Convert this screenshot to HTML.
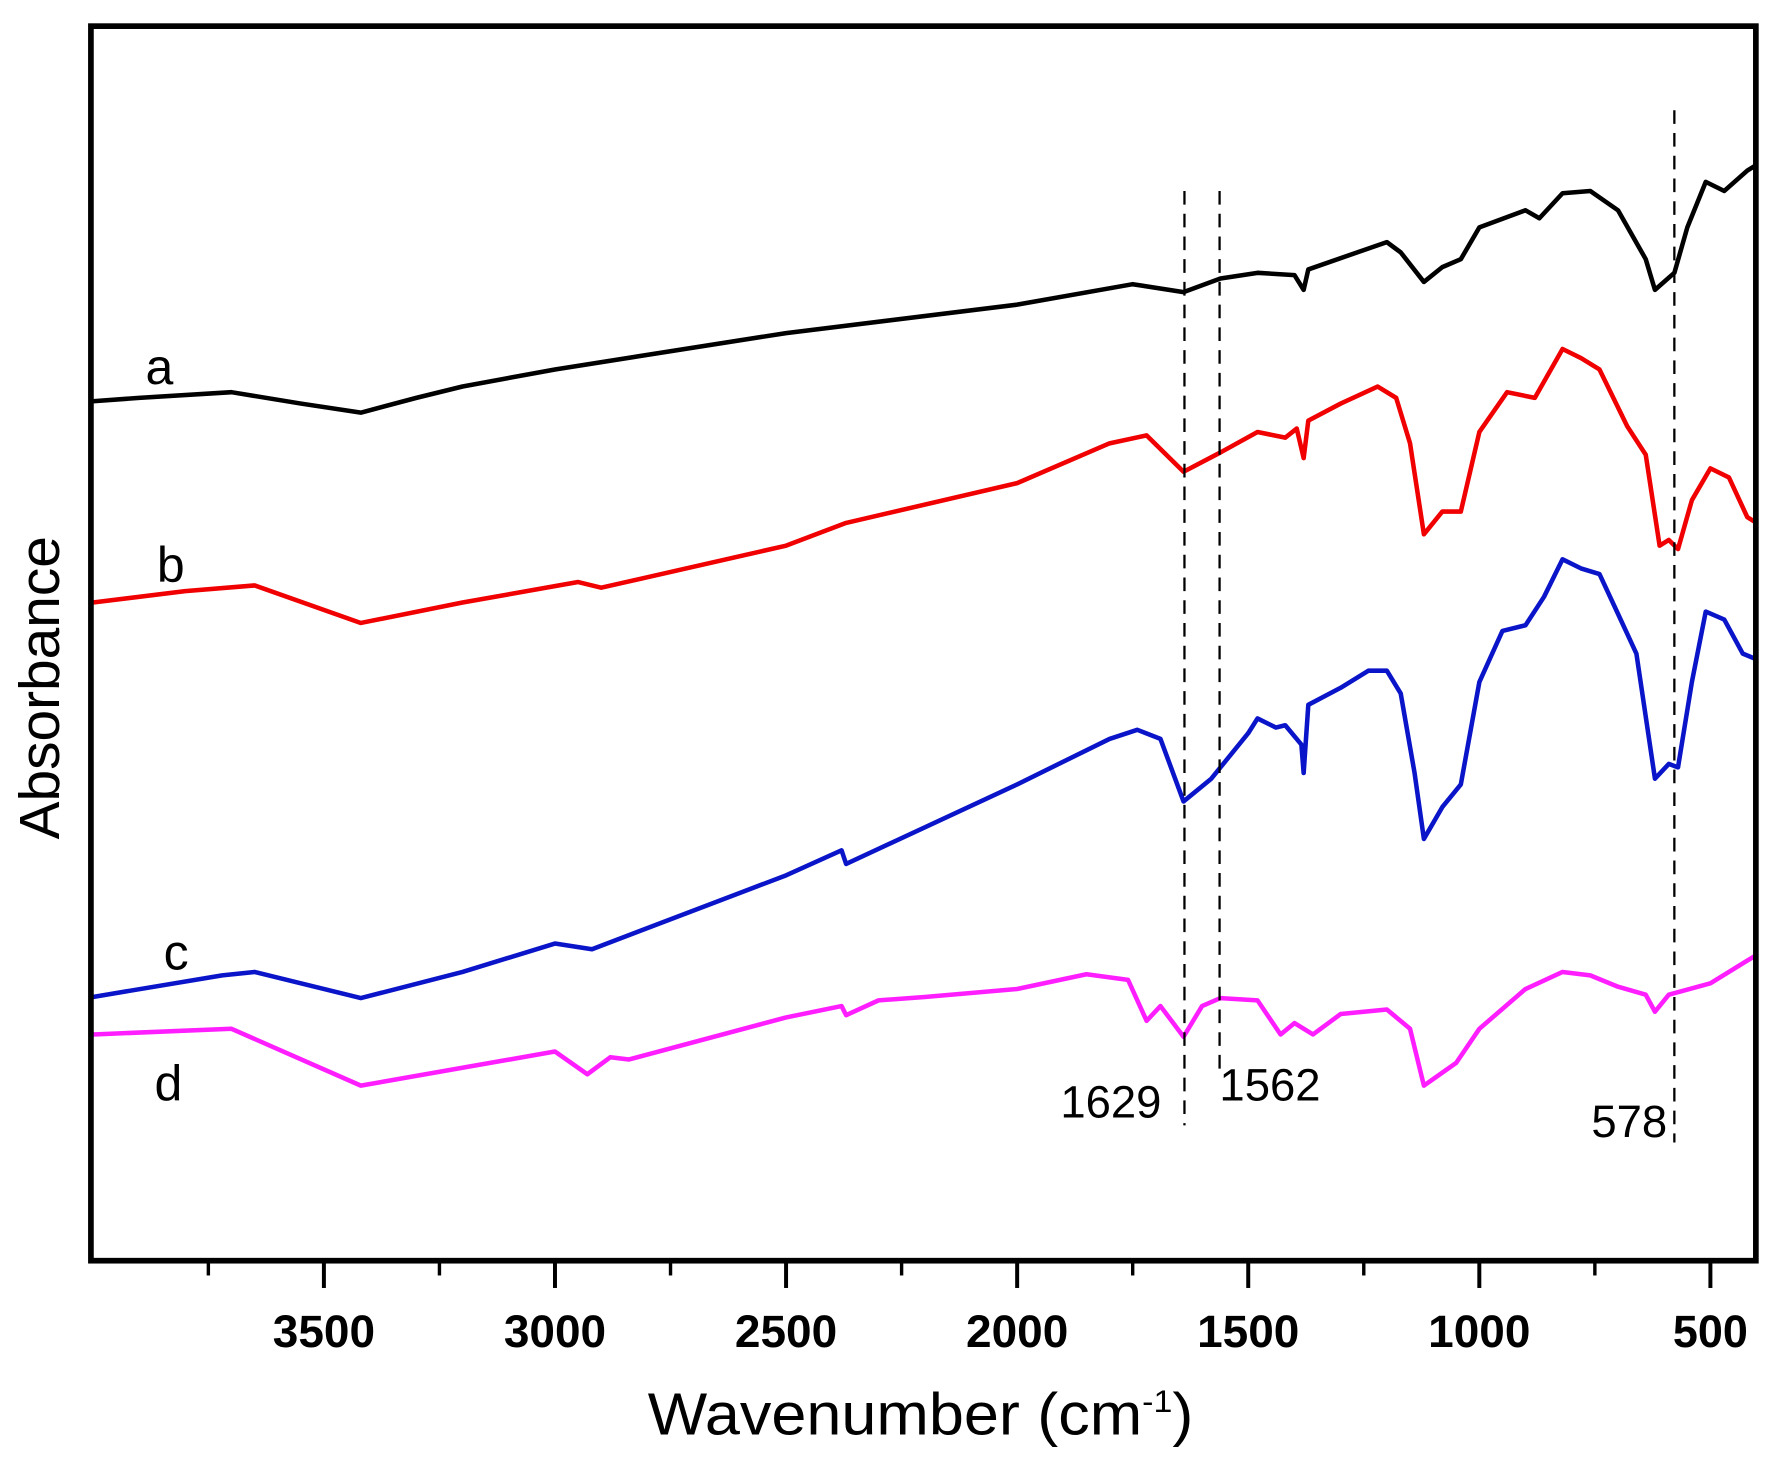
<!DOCTYPE html>
<html><head><meta charset="utf-8"><style>
html,body{margin:0;padding:0;background:#fff;}
svg{display:block;}
text{font-family:"Liberation Sans",sans-serif;}
</style></head><body>
<svg id="chart" width="1782" height="1471" viewBox="0 0 1568 1294" preserveAspectRatio="none" xmlns="http://www.w3.org/2000/svg">
<rect x="0" y="0" width="1568" height="1294" fill="#fff"/>
<g id="plot"></g>
<rect x="80" y="23" width="1465" height="1086" fill="none" stroke="#000" stroke-width="5"/>
<g id="ticks"></g>
<text x="810" y="1262" font-size="52" text-anchor="middle" textLength="480" lengthAdjust="spacingAndGlyphs">Wavenumber (cm<tspan dy="-20" font-size="28">-1</tspan><tspan dy="20">)</tspan></text>
<text transform="translate(52,605) rotate(-90)" font-size="50" text-anchor="middle">Absorbance</text>
<text x="128" y="338" font-size="44">a</text>
<text x="138" y="512" font-size="44">b</text>
<text x="144" y="853" font-size="44">c</text>
<text x="136" y="968" font-size="44">d</text>
<text x="1022" y="983" font-size="40" text-anchor="end">1629</text>
<text x="1073" y="968" font-size="40">1562</text>
<text x="1467" y="1000" font-size="40" text-anchor="end">578</text>
</svg>
<script>
const wnA=[4000,3900,3700,3550,3420,3300,3200,3000,2500,2000,1750,1640,1560,1480,1400,1380,1370,1250,1200,1170,1120,1080,1040,1000,900,870,820,760,700,640,620,578,550,510,470,420,400];
const absA=[757,760,765,755,747,760,770,785,817,842,860,853,865,870,868,855,873,890,897,888,862,875,882,910,925,918,940,942,925,882,855,870,910,950,942,960,965];
const wnB=[4000,3800,3650,3420,3200,2950,2900,2500,2370,2000,1800,1720,1640,1560,1480,1420,1395,1380,1370,1300,1220,1180,1150,1120,1080,1040,1000,940,880,820,780,740,680,640,610,590,570,540,500,460,420,400];
const absB=[580,590,595,562,580,598,593,630,650,685,720,727,695,712,730,725,733,707,740,755,770,760,720,640,660,660,730,765,760,803,795,785,735,710,630,635,627,670,698,690,655,650];
const wnC=[4000,3720,3650,3420,3200,3000,2920,2500,2380,2370,2000,1800,1740,1690,1640,1580,1500,1480,1440,1420,1385,1380,1370,1300,1240,1200,1170,1140,1120,1080,1040,1000,950,900,860,820,780,740,700,660,620,590,570,540,510,470,430,400];
const absC=[233,252,255,232,255,280,275,340,362,350,420,460,468,460,405,425,465,478,470,472,455,430,490,505,520,520,500,430,372,400,420,510,555,560,585,618,610,605,570,535,425,438,435,510,572,565,535,530];
const wnD=[4000,3700,3420,3000,2930,2880,2840,2500,2380,2370,2300,2200,2000,1850,1760,1720,1690,1640,1600,1560,1480,1430,1400,1360,1300,1200,1150,1120,1050,1000,900,820,760,700,640,620,590,500,420,400];
const absD=[200,205,155,185,165,180,178,215,225,217,230,233,240,253,248,212,225,198,225,232,230,200,210,200,218,222,205,155,175,205,240,255,252,242,235,220,235,245,265,270];
const majorTicks=[3500,3000,2500,2000,1500,1000,500];
const minorTicks=[3750,3250,2750,2250,1750,1250,750];
const markers=[1638,1562,578];
const markerTop=[168,168,97];
const markerBottom=[990,945,1005];

const NS="http://www.w3.org/2000/svg";
const xS=w=>285+(3500-w)*(1220/3000);
const yS=v=>1110-v;
const plot=document.getElementById('plot');
const ticks=document.getElementById('ticks');
function mk(tag,attrs,parent){const e=document.createElementNS(NS,tag);for(const k in attrs)e.setAttribute(k,attrs[k]);parent.appendChild(e);return e;}
const series=[['a',wnA,absA,'#000'],['b',wnB,absB,'#f00000'],['c',wnC,absC,'#0a14c8'],['d',wnD,absD,'#ff1eff']];
series.forEach(s=>{
  const d=s[1].map((w,i)=>(i?'L':'M')+xS(w).toFixed(1)+','+yS(s[2][i]).toFixed(1)).join('');
  const p=mk('path',{d:d,fill:'none',stroke:s[3],'stroke-width':4,'stroke-linejoin':'round'},plot);
  
  
});
markers.forEach((m,i)=>{
  const l=mk('line',{x1:xS(m),x2:xS(m),y1:markerTop[i],y2:markerBottom[i],stroke:'#000','stroke-width':2,'stroke-dasharray':'12,8'},plot);
  
  
});
majorTicks.forEach(t=>{
  const l=mk('line',{x1:xS(t),x2:xS(t),y1:1109,y2:1133,stroke:'#000','stroke-width':3.5},ticks);
  
  
  const tx=mk('text',{x:xS(t),y:1185,'font-size':40,'font-weight':'bold','text-anchor':'middle',textLength:90,lengthAdjust:'spacingAndGlyphs'},ticks);
  if(t<1000){tx.setAttribute('textLength',66);}
  tx.textContent=t;
  
  
});
minorTicks.forEach(t=>{
  const l=mk('line',{x1:xS(t),x2:xS(t),y1:1109,y2:1122,stroke:'#000','stroke-width':3},ticks);
  
  
});
</script>
</body></html>
